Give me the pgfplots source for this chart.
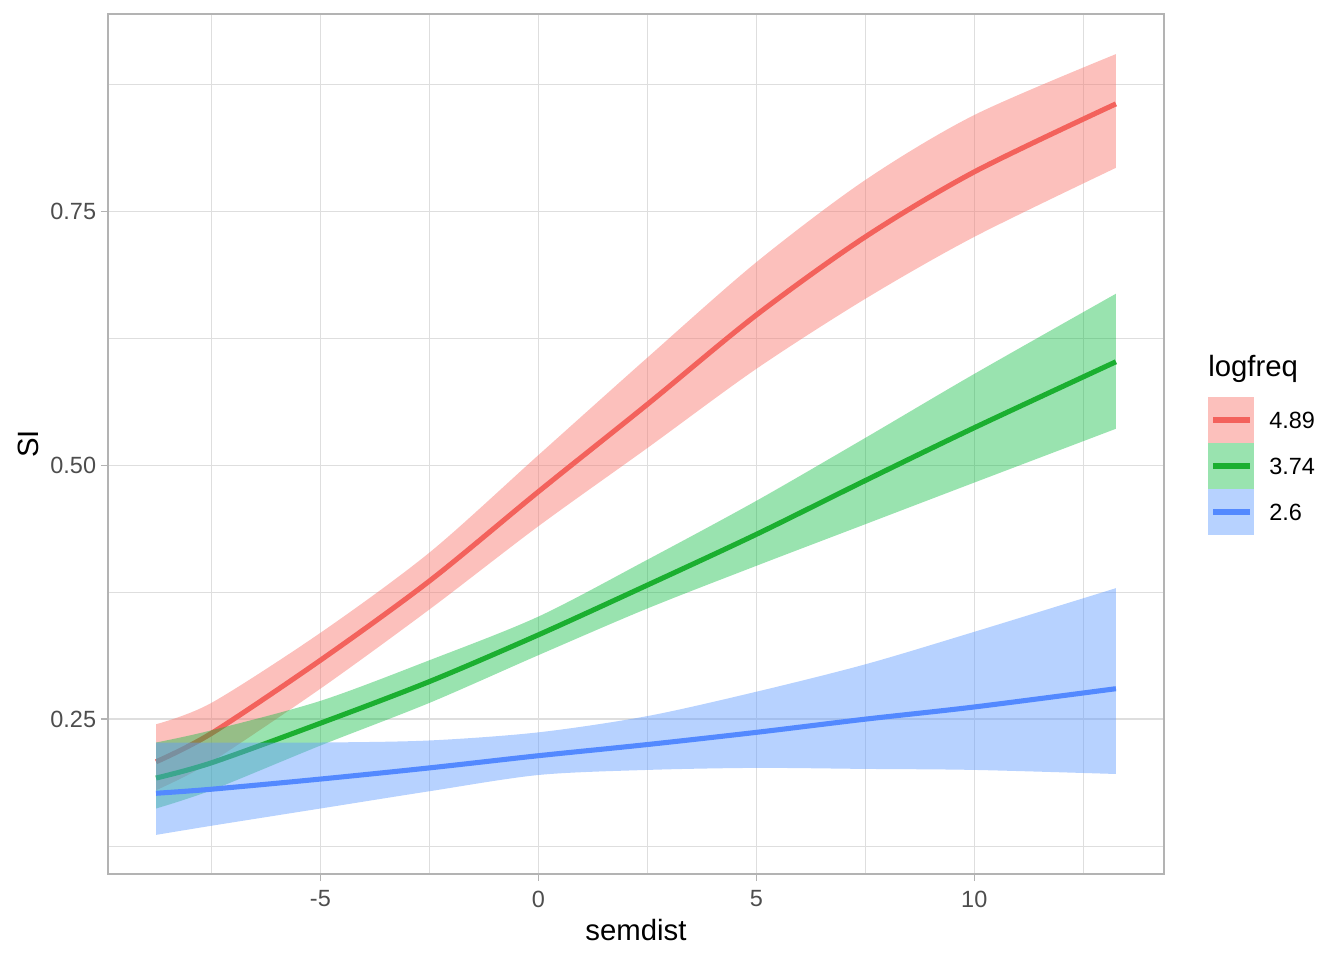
\documentclass[border=0pt]{standalone}
\usepackage{fontspec}
\setmainfont{Liberation Sans}
\usepackage{pgfplots}
\usepackage{pgfplotstable}
\pgfplotsset{compat=1.18}
\usepgfplotslibrary{fillbetween}
\definecolor{cR}{HTML}{F8766D}
\definecolor{cG}{HTML}{00BA38}
\definecolor{cB}{HTML}{619CFF}
\definecolor{lR}{HTML}{F3625C}
\definecolor{lG}{HTML}{1BAF30}
\definecolor{lB}{HTML}{5389FF}
\definecolor{gridc}{HTML}{DEDEDE}
\definecolor{borderc}{HTML}{B3B3B3}
\definecolor{tickc}{HTML}{4D4D4D}

\pgfplotstableread{
x l lo hi
-8.77 0.208 0.180 0.245
-7.5 0.236 0.208 0.266
-5 0.308 0.280 0.335
-2.5 0.386 0.358 0.414
0 0.474 0.440 0.510
2.5 0.560 0.517 0.606
5 0.648 0.595 0.700
7.5 0.725 0.664 0.781
10 0.789 0.725 0.845
13.25 0.856 0.793 0.905
}\redtab

\pgfplotstableread{
x l lo hi
-8.77 0.192 0.162 0.227
-7.5 0.207 0.180 0.239
-5 0.246 0.224 0.268
-2.5 0.287 0.266 0.308
0 0.333 0.313 0.351
2.5 0.382 0.359 0.407
5 0.432 0.401 0.465
7.5 0.485 0.442 0.527
10 0.537 0.483 0.590
13.25 0.602 0.536 0.669
}\greentab

\pgfplotstableread{
x l lo hi
-8.77 0.177 0.136 0.227
-7.5 0.181 0.145 0.227
-5 0.191 0.162 0.227
-2.5 0.202 0.179 0.229
0 0.214 0.195 0.237
2.5 0.225 0.200 0.253
5 0.237 0.202 0.277
7.5 0.250 0.201 0.304
10 0.262 0.200 0.336
13.25 0.280 0.196 0.379
}\bluetab

\begin{document}
\begin{tikzpicture}
\begin{axis}[
  at={(81pt,64.5pt)}, anchor=south west,
  scale only axis, width=792pt, height=645pt,
  xmin=-9.872, xmax=14.353, ymin=0.0975, ymax=0.9445,
  axis line style={draw=borderc, line width=1.2pt},
  xtick={-5,0,5,10}, xticklabels={-5,0,5,10},
  ytick={0.25,0.5,0.75}, yticklabels={0.25,0.50,0.75},
  minor xtick={-7.5,-2.5,2.5,7.5,12.5},
  minor ytick={0.125,0.375,0.625,0.875},
  xtick pos=bottom, ytick pos=left,
  tick align=outside,
  major tick length=5.4pt, minor tick length=0pt,
  major tick style={draw=borderc, line width=1.1pt},
  minor tick style={draw=none},
  grid=both,
  major grid style={draw=gridc, line width=1.1pt},
  minor grid style={draw=gridc, line width=0.55pt},
  ticklabel style={font=\fontsize{17.6}{20}\selectfont, text=tickc},
  xticklabel style={yshift=-3.6pt},
  xlabel={semdist}, ylabel={SI},
  label style={font=\fontsize{22}{26}\selectfont, text=black},
  xlabel style={at={(axis description cs:0.5,-0.0651)}, anchor=center},
  ylabel style={at={(axis description cs:-0.0758,0.5)}, anchor=center},
]
% red
\addplot[draw=none, name path=rhi, smooth] table[x=x,y=hi]{\redtab};
\addplot[draw=none, name path=rlo, smooth] table[x=x,y=lo]{\redtab};
\addplot[fill=cR, fill opacity=0.46, draw=none] fill between[of=rhi and rlo];
\addplot[lR, line width=3.8pt, smooth, on layer=pre main] table[x=x,y=l]{\redtab};
% green
\addplot[draw=none, name path=ghi, smooth] table[x=x,y=hi]{\greentab};
\addplot[draw=none, name path=glo, smooth] table[x=x,y=lo]{\greentab};
\addplot[fill=cG, fill opacity=0.40, draw=none] fill between[of=ghi and glo];
\addplot[lG, line width=3.8pt, smooth, on layer=pre main] table[x=x,y=l]{\greentab};
% blue
\addplot[draw=none, name path=bhi, smooth] table[x=x,y=hi]{\bluetab};
\addplot[draw=none, name path=blo, smooth] table[x=x,y=lo]{\bluetab};
\addplot[fill=cB, fill opacity=0.46, draw=none] fill between[of=bhi and blo];
\addplot[lB, line width=3.8pt, smooth, on layer=pre main] table[x=x,y=l]{\bluetab};
\end{axis}
\begin{scope}[x=0.75pt,y=0.75pt]
\node[anchor=base west, inner sep=0pt, font=\fontsize{22}{26}\selectfont] at (1208,583) {logfreq};
\fill[cR, fill opacity=0.46] (1208,517) rectangle (1254,563);
\fill[cG, fill opacity=0.40] (1208,471) rectangle (1254,517);
\fill[cB, fill opacity=0.46] (1208,425) rectangle (1254,471);
\draw[lR, line width=3.8pt] (1213,540) -- (1250,540);
\draw[lG, line width=3.8pt] (1213,494) -- (1250,494);
\draw[lB, line width=3.8pt] (1213,448) -- (1250,448);
\node[anchor=west, inner sep=0pt, font=\fontsize{17.6}{20}\selectfont] at (1269,540) {4.89};
\node[anchor=west, inner sep=0pt, font=\fontsize{17.6}{20}\selectfont] at (1269,494) {3.74};
\node[anchor=west, inner sep=0pt, font=\fontsize{17.6}{20}\selectfont] at (1269,448) {2.6};
\path (0,0) rectangle (1344,960);
\end{scope}
\end{tikzpicture}
\end{document}
